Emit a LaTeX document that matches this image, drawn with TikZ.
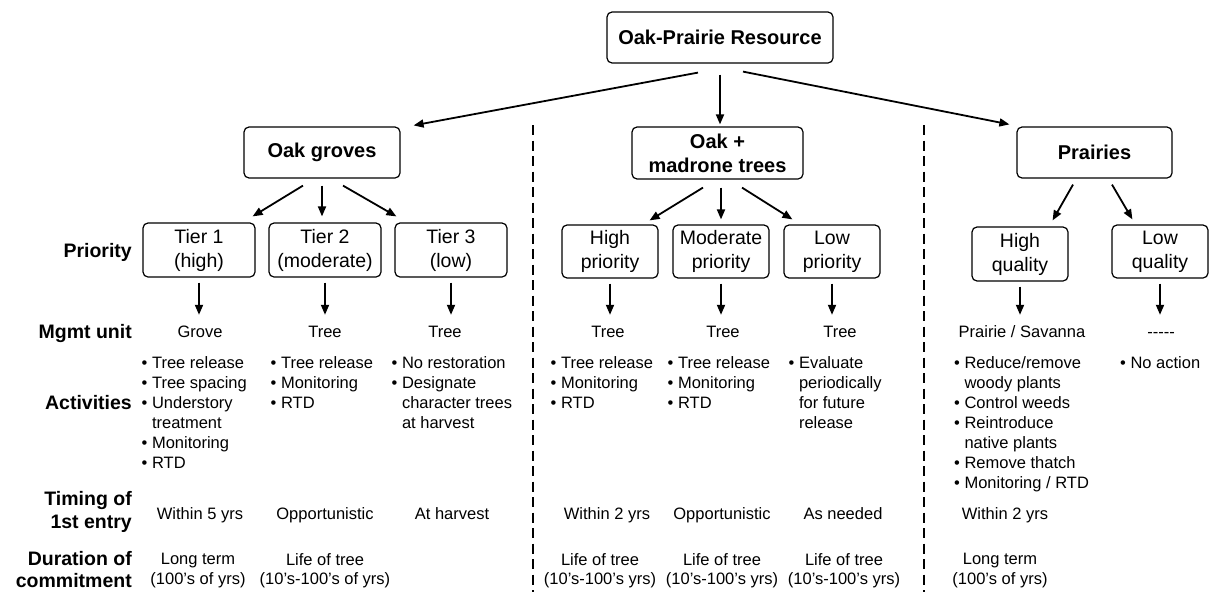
\documentclass[tikz,border=0pt]{standalone}
\usepackage{fontspec}
\setmainfont{Liberation Sans}
\usetikzlibrary{arrows.meta,calc}
\newcommand{\blt}{•\ }
\newcommand{\ind}{\hphantom{•\ }}
\newcommand{\hy}{\hbox{-}}
\begin{document}
\begin{tikzpicture}[x=1pt,y=-1pt,
  hbox/.style={draw, line width=1.2pt, rounded corners=5pt, inner sep=0pt, align=center, font=\fontsize{20}{24}\selectfont\bfseries},
  tbox/.style={draw, line width=1.2pt, rounded corners=5pt, inner sep=0pt, align=center, font=\fontsize{19.5}{24}\selectfont},
  rowlab/.style={anchor=north east, align=right, inner sep=0pt, font=\fontsize{19.5}{22}\selectfont\bfseries},
  rowlabone/.style={anchor=base east, inner sep=0pt, font=\fontsize{19.5}{22}\selectfont\bfseries},
  mg/.style={inner sep=0pt, text height=11pt, text depth=3pt, font=\fontsize{16.5}{20}\selectfont},
  dur/.style={inner sep=0pt, align=center, font=\fontsize{16.5}{19.5}\selectfont},
  act/.style={anchor=north west, inner sep=0pt, align=left, font=\fontsize{16.5}{20}\selectfont},
  arr/.style={line width=1.8pt, -{Triangle[length=10pt,width=8pt]}},
  divider/.style={line width=2pt, dash pattern=on 10pt off 5.5pt}
]
\useasboundingbox (0,0) rectangle (1213,592);

% header boxes
\node[hbox, minimum width=226pt, minimum height=51pt] (top) at (720,37.5) {Oak-Prairie Resource};
\node[hbox, minimum width=156pt, minimum height=51pt] (og) at (322,152.5) {Oak groves};
\node[hbox, minimum width=171pt, minimum height=52pt] (om) at (717.5,153) {Oak +\\madrone trees};
\node[hbox, minimum width=155pt, minimum height=51pt] (pr) at (1094.5,152.5) {Prairies};

% priority boxes
\node[tbox, minimum width=112pt, minimum height=54pt] (t1) at (199,250) {Tier 1\\(high)};
\node[tbox, minimum width=112pt, minimum height=54pt] (t2) at (325,250) {Tier 2\\(moderate)};
\node[tbox, minimum width=112pt, minimum height=54pt] (t3) at (451,250) {Tier 3\\(low)};
\node[tbox, minimum width=96pt, minimum height=53pt] (hp) at (610,251.5) {High\\priority};
\node[tbox, minimum width=96pt, minimum height=53pt] (mp) at (721,251.5) {Moderate\\priority};
\node[tbox, minimum width=96pt, minimum height=53pt] (lp) at (832,251.5) {Low\\priority};
\node[tbox, minimum width=96pt, minimum height=54pt] (hq) at (1020,254) {High\\quality};
\node[tbox, minimum width=96pt, minimum height=53pt] (lq) at (1160,251.5) {Low\\quality};

% row labels
\node[rowlabone] (lpri) at (132,257) {Priority};
\node[rowlabone] (lmg) at (132,338) {Mgmt unit};
\node[rowlabone] (lact) at (132,409) {Activities};
\node[rowlab] (ltim) at (132,491) {Timing of\\[1pt]1st entry};
\node[rowlab] (ldur) at (132,551) {Duration of\\commitment};

% management units
\node[mg] (m1) at (200,333) {Grove};
\node[mg] (m2) at (325,333) {Tree};
\node[mg] (m3) at (445,333) {Tree};
\node[mg] (m4) at (608,333) {Tree};
\node[mg] (m5) at (723,333) {Tree};
\node[mg] (m6) at (840,333) {Tree};
\node[mg] (m7) at (1022,333) {Prairie / Savanna};
\node[mg] (m8) at (1161,333) {\hy\hy\hy\hy\hy};

% activities
\node[act] (a1) at (141.5,356) {\blt Tree release\\\blt Tree spacing\\\blt Understory\\\ind treatment\\\blt Monitoring\\\blt RTD};
\node[act] (a2) at (270.5,356) {\blt Tree release\\\blt Monitoring\\\blt RTD};
\node[act] (a3) at (391.5,356) {\blt No restoration\\\blt Designate\\\ind character trees\\\ind at harvest};
\node[act] (a4) at (550.5,356) {\blt Tree release\\\blt Monitoring\\\blt RTD};
\node[act] (a5) at (667.5,356) {\blt Tree release\\\blt Monitoring\\\blt RTD};
\node[act] (a6) at (788.5,356) {\blt Evaluate\\\ind periodically\\\ind for future\\\ind release};
\node[act] (a7) at (954,356) {\blt Reduce/remove\\\ind woody plants\\\blt Control weeds\\\blt Reintroduce\\\ind native plants\\\blt Remove thatch\\\blt Monitoring / RTD};
\node[act] (a8) at (1120,356) {\blt No action};

% timing of first entry
\node[mg] (tm1) at (200,515) {Within 5 yrs};
\node[mg] (tm2) at (325,515) {Opportunistic};
\node[mg] (tm3) at (452,515) {At harvest};
\node[mg] (tm4) at (607,515) {Within 2 yrs};
\node[mg] (tm5) at (722,515) {Opportunistic};
\node[mg] (tm6) at (843,515) {As needed};
\node[mg] (tm7) at (1005,515) {Within 2 yrs};

% duration of commitment
\node[dur] (d1) at (198,570.5) {Long term\\(100’s of yrs)};
\node[dur] (d2) at (325,570.5) {Life of tree\\(10’s-100’s of yrs)};
\node[dur] (d4) at (600,570.5) {Life of tree\\(10’s-100’s yrs)};
\node[dur] (d5) at (722,570.5) {Life of tree\\(10’s-100’s yrs)};
\node[dur] (d6) at (844,570.5) {Life of tree\\(10’s-100’s yrs)};
\node[dur] (d7) at (1000,570.5) {Long term\\(100’s of yrs)};

% dividers
\coordinate (v1a) at (533,125); \coordinate (v1b) at (533,592);
\coordinate (v2a) at (924,125); \coordinate (v2b) at (924,592);
\draw[divider] (v1a) -- (v1b);
\draw[divider] (v2a) -- (v2b);

% arrows from top
\draw[arr] ($(top.south)+(-22,9)$) -- ($(og.north east)+(13,-1)$);
\draw[arr] ($(top.south)+(0,11)$) -- ($(top.south |- om.north)+(0,-2)$);
\draw[arr] ($(top.south)+(23,8)$) -- ($(pr.north west)+(-7,-2)$);

% arrows from oak groves
\draw[arr] ($(og.south)+(-19,7)$) -- ($(t1.north east)+(-3,-6)$);
\draw[arr] ($(og.south)+(0,7)$) -- ($(og.south |- t2.north)+(0,-6)$);
\draw[arr] ($(og.south)+(21,7)$) -- ($(t3.north west)+(2,-6)$);

% arrows from oak + madrone
\draw[arr] ($(om.south)+(-14.5,8)$) -- ($(hp.north east)+(-9,-4)$);
\draw[arr] ($(om.south -| mp.north)+(0,8)$) -- ($(mp.north)+(0,-5)$);
\draw[arr] ($(om.south)+(24.5,8)$) -- ($(lp.north west)+(9,-5)$);

% arrows from prairies
\draw[arr] ($(pr.south)+(-21.5,6)$) -- ($(hq.north east)+(-16,-6)$);
\draw[arr] ($(pr.south)+(17.5,6)$) -- ($(lq.north west)+(21,-5)$);

% arrows to management units
\foreach \b/\m in {t1/m1,t2/m2,t3/m3,hp/m4,mp/m5,lp/m6,hq/m7,lq/m8}
  \draw[arr, shorten <=5pt, shorten >=11pt] (\b.south) -- (\b.south |- \m.north);
\end{tikzpicture}
\end{document}
